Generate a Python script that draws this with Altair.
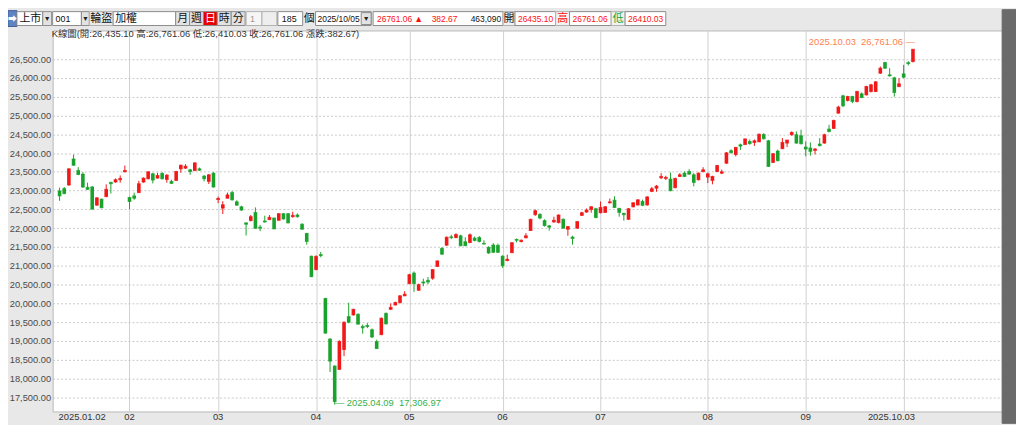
import altair as alt
import pandas as pd

# ---------------- data ----------------
opens = [
    22991, 23053, 23149, 23842, 23535, 23439, 23088, 23097, 22614, 22772, 22842, 23219, 23228, 23290, 23500,
    22816, 22860, 22947, 23228, 23316, 23447, 23333, 23456, 23298, 23246, 23272, 23579, 23597, 23553, 23535, 23579, 23386, 23246, 23465,
    22763, 22535, 22798, 22947, 22702, 22570, 22141, 22202, 22421, 22027, 22193, 22228, 22272, 22211, 22386, 22386, 22307, 22351, 22106, 21860, 21255,
    20900, 21298, 20132, 19053, 18334, 18246, 18773, 19649, 19693, 19711, 19386, 19413, 19299, 18983, 19167, 19737, 19843, 19957, 20018, 20202,
    20527, 20807, 20351, 20570, 20614, 20670, 20985, 21460, 21550, 21770, 21750, 21798, 21640, 21620, 21737, 21754, 21596, 21491, 21553, 21544,
    21255, 21140, 21350, 21700, 21645, 21746, 21939, 22360, 22369, 22202, 22062, 22167, 22149, 22237, 21974, 21763, 22000, 22342, 22430, 22500, 22518,
    22412, 22421, 22676, 22746, 22526, 22395, 22237, 22570, 22620, 22710, 22620, 22980, 23065, 23342, 23325, 23307, 23079, 23377, 23465, 23509, 23421, 23290, 23509,
    23360, 23272, 23509, 23465, 23730, 24061, 23960, 24219, 24228, 24307, 24281, 24298, 24490, 24325, 23752, 24053, 24115, 24265, 24487, 24487, 24460,
    24159, 24133, 24071, 24239, 24265, 24637, 24655, 25062, 25522, 25398, 25504, 25372, 25575, 25548, 25637, 25637, 26124, 26407, 26080, 26000, 25770,
    26106, 26405, 26435.10,
]
highs = [
    23079, 23097, 23597, 23956, 23623, 23491, 23211, 23123, 22825, 22790, 23167, 23237, 23325, 23404, 23667,
    22842, 22947, 23263, 23351, 23518, 23474, 23474, 23491, 23439, 23290, 23526, 23693, 23702, 23579, 23754, 23614, 23412, 23439, 23491,
    22842, 22719, 22947, 22991, 22746, 22597, 22158, 22351, 22553, 22088, 22334, 22351, 22281, 22404, 22404, 22404, 22439, 22395, 22132, 21877, 21270,
    21280, 21369, 20150, 19070, 18352, 19018, 19518, 20018, 19860, 19737, 19440, 19474, 19334, 19036, 19623, 19754, 20000, 20044, 20219, 20325,
    20790, 20851, 20527, 20658, 20702, 20910, 21140, 21500, 21780, 21825, 21868, 21825, 21760, 21860, 21780, 21790, 21680, 21520, 21600, 21590,
    21280, 21298, 21620, 21728, 21700, 21869, 22250, 22500, 22395, 22237, 22088, 22307, 22369, 22262, 22062, 21799, 22193, 22439, 22526, 22588, 22544,
    22711, 22588, 22790, 22851, 22544, 22412, 22535, 22693, 22770, 22760, 22850, 23096, 23149, 23465, 23395, 23482, 23342, 23465, 23509, 23570, 23465, 23482, 23623,
    23482, 23395, 23684, 23560, 24027, 24100, 24160, 24250, 24386, 24360, 24360, 24518, 24530, 24350, 24000, 24088, 24398, 24350, 24575, 24575, 24619,
    24310, 24283, 24133, 24398, 24513, 24752, 24885, 25257, 25548, 25522, 25522, 25655, 25611, 25788, 25840, 25911, 26301, 26425, 26257, 26027, 25991,
    26345, 26440, 26761.06,
]
lows = [
    22728, 22904, 23132, 23667, 23412, 23070, 23018, 22492, 22597, 22535, 22825, 22921, 23211, 23211, 23491,
    22509, 22755, 22939, 23211, 23298, 23193, 23325, 23298, 23211, 23184, 23263, 23474, 23579, 23421, 23518, 23526, 23246, 23176, 23079,
    22667, 22378, 22790, 22737, 22597, 22465, 21807, 22185, 21983, 21921, 22150, 22220, 21974, 22202, 22228, 22132, 22281, 22281, 21965, 21562, 20700,
    20880, 21228, 19193, 18176, 17306.97, 18229, 18597, 19474, 19675, 19440, 19193, 19343, 19080, 18790, 19158, 19440, 19825, 19948, 20009, 20193,
    20509, 20307, 20333, 20456, 20509, 20630, 20965, 21290, 21530, 21711, 21735, 21520, 21525, 21600, 21650, 21620, 21570, 21320, 21340, 21340,
    20945, 21120, 21340, 21623, 21625, 21730, 21930, 22330, 22237, 22044, 21939, 22150, 22132, 21990, 21799, 21562, 21990, 22325, 22412, 22412, 22272,
    22395, 22404, 22658, 22535, 22307, 22202, 22220, 22553, 22600, 22590, 22600, 22960, 22970, 23307, 23280, 22982, 23061, 23360, 23360, 23421, 23114, 23272, 23482,
    23202, 23167, 23491, 23440, 23710, 23990, 23910, 24079, 24210, 24220, 24190, 24290, 24360, 23630, 23735, 23780, 24106, 24160, 24460, 24248, 24230,
    23912, 23930, 23960, 24180, 24248, 24548, 24637, 25044, 25221, 25372, 25327, 25345, 25460, 25530, 25611, 25620, 26106, 26239, 26035, 25500, 25750,
    25991, 26330, 26410.03,
]
closes = [
    22860, 22921, 23579, 23675, 23430, 23097, 23035, 22509, 22807, 22544, 23035, 23184, 23290, 23325, 23535,
    22711, 22798, 23184, 23333, 23500, 23281, 23404, 23316, 23412, 23193, 23509, 23675, 23649, 23509, 23737, 23544, 23316, 23421, 23097,
    22790, 22623, 22886, 22755, 22614, 22483, 22106, 22307, 22000, 22000, 22167, 22290, 21983, 22386, 22246, 22141, 22342, 22307, 21974, 21650, 20710,
    21250, 21272, 19211, 18465, 17387, 18992, 19500, 19500, 19842, 19448, 19351, 19386, 19106, 18799, 19606, 19456, 19895, 20026, 20202, 20246,
    20763, 20527, 20500, 20544, 20570, 20900, 21130, 21310, 21760, 21750, 21830, 21535, 21535, 21825, 21675, 21649, 21579, 21342, 21360, 21360,
    21000, 21175, 21615, 21680, 21680, 21798, 22237, 22465, 22272, 22070, 22027, 22211, 22351, 22000, 22044, 21728, 22176, 22412, 22483, 22570, 22281,
    22553, 22570, 22702, 22553, 22421, 22360, 22518, 22676, 22755, 22610, 22833, 23050, 23120, 23377, 23351, 23000, 23325, 23421, 23377, 23439, 23219, 23465, 23553,
    23447, 23377, 23667, 23500, 24005, 24009, 24150, 24184, 24375, 24254, 24325, 24500, 24380, 23645, 23982, 23796, 24283, 24345, 24549, 24265, 24248,
    24106, 24044, 24106, 24195, 24487, 24575, 24867, 25221, 25257, 25504, 25372, 25637, 25478, 25770, 25814, 25894, 26257, 26257, 26053, 25611, 25841,
    26018, 26378.39, 26761.06,
]

y_ticks = [17500, 18000, 18500, 19000, 19500, 20000, 20500, 21000, 21500,
           22000, 22500, 23000, 23500, 24000, 24500, 25000, 25500, 26000, 26500]
month_line_idx = [15, 34, 55, 75, 95, 116, 139, 160, 181]
x_label_idx = [0, 15, 34, 55, 75, 95, 116, 139, 160, 183]
x_labels = ["2025.01.02", "02", "03", "04", "05", "06", "07", "08", "09", "2025.10.03"]
high_date = "2025.10.03"
low_date = "2025.04.09"
info_line = "K線圖(開:26,435.10 高:26,761.06 低:26,410.03 收:26,761.06 漲跌:382.67)"

# toolbar texts
tb_market, tb_code, tb_btn, tb_name = "上市", "001", "輪盜", "加權"
tb_periods = ["月", "週", "日", "時", "分"]
tb_n1, tb_count, tb_unit, tb_date = "1", "185", "個", "2025/10/05"
tb_last, tb_chg, tb_vol = "26761.06", "382.67", "463,090"
tb_open, tb_high, tb_low = "26435.10", "26761.06", "26410.03"

# ---------------- styling ----------------
UP, DOWN = "#f01818", "#19a32c"
FONT = "Liberation Sans"
TBFONT = "Liberation Sans, Noto Sans CJK TC"
W, H = 957, 384
PL, PT = 45, 21          # view origin on the page is (8 + PL, 8 + PT)
SP = " \u00a0"           # double space that survives SVG whitespace collapsing

df = pd.DataFrame({"i": list(range(len(opens))), "open": opens, "high": highs,
                   "low": lows, "close": closes})
df["col"] = [UP if c >= o else DOWN for o, c in zip(opens, closes)]

xs = alt.Scale(domain=[-0.421, 201.05], nice=False, zero=False)
ys = alt.Scale(domain=[17126, 27260], nice=False, zero=False)

base = alt.Chart(df)
wick = base.mark_rule(strokeWidth=1).encode(
    x=alt.X("i:Q", scale=xs, title=None,
            axis=alt.Axis(values=month_line_idx, tickCount=50, grid=True, gridColor="#d0d0d0",
                          gridWidth=1, labels=False, ticks=False, domain=False, title=None)),
    y=alt.Y("low:Q", scale=ys, title=None,
            axis=alt.Axis(values=y_ticks, tickCount=50, format=",.2f", grid=True,
                          gridDash=[2, 2], gridColor="#c8c8c8", domain=False, ticks=False,
                          labelPadding=2, labelOverlap=False, labelFont=FONT,
                          labelFontSize=9.4, labelColor="#4a4a4a", title=None)),
    y2="high:Q",
    color=alt.Color("col:N", scale=None),
)
body = base.mark_bar(size=3.6).encode(
    x=alt.X("i:Q", scale=xs, title=None),
    y=alt.Y("open:Q", scale=ys, title=None), y2="close:Q",
    color=alt.Color("col:N", scale=None),
)
tick_o = base.mark_tick(orient="horizontal", size=3.6, thickness=1).encode(
    x=alt.X("i:Q", scale=xs, title=None), y=alt.Y("open:Q", scale=ys, title=None),
    color=alt.Color("col:N", scale=None))
tick_c = base.mark_tick(orient="horizontal", size=3.6, thickness=1).encode(
    x=alt.X("i:Q", scale=xs, title=None), y=alt.Y("close:Q", scale=ys, title=None),
    color=alt.Color("col:N", scale=None))

# high / low annotations
i_hi = highs.index(max(highs))
i_lo = lows.index(min(lows))
ann_hi = alt.Chart(pd.DataFrame({"i": [i_hi], "v": [highs[i_hi]],
                                 "t": [f"{high_date}{SP}{highs[i_hi]:,.2f} —"]})).mark_text(
    align="right", baseline="middle", dx=2, dy=-7, font=FONT, fontSize=9.5, color="#ff8050"
).encode(x=alt.X("i:Q", scale=xs, title=None), y=alt.Y("v:Q", scale=ys, title=None), text="t:N")
ann_lo = alt.Chart(pd.DataFrame({"i": [i_lo], "v": [lows[i_lo]],
                                 "t": [f"— {low_date}{SP}{lows[i_lo]:,.2f}"]})).mark_text(
    align="left", baseline="middle", dx=0, dy=-2, font=FONT, fontSize=9.5, color="#36b04a"
).encode(x=alt.X("i:Q", scale=xs, title=None), y=alt.Y("v:Q", scale=ys, title=None), text="t:N")

# bottom date labels
xl = pd.DataFrame({"i": x_label_idx, "t": x_labels,
                   "a": ["left"] + ["center"] * (len(x_labels) - 2) + ["right"]})
xlab = []
for a, dx in (("left", -1), ("center", 0), ("right", 2)):
    xlab.append(alt.Chart(xl).transform_filter(alt.datum.a == a).mark_text(
        align=a, baseline="middle", dx=dx, font=FONT, fontSize=9.5, color="#333333"
    ).encode(x=alt.X("i:Q", scale=xs, title=None), y=alt.value(H + 6), text="t:N"))

info = alt.Chart(pd.DataFrame({"t": [info_line]})).mark_text(
    align="left", baseline="middle", font=TBFONT, fontSize=9.5, color="#333333"
).encode(x=alt.value(-1), y=alt.value(4), text="t:N")

# ---------------- toolbar (decoration, pixel frame of the window) ----------------
def box(x0, x1, y0, y1, fill, stroke):
    return {"x0": x0 - 8 - PL, "x1": x1 - 8 - PL, "y0": y0 - PT, "y1": y1 - PT,
            "fill": fill, "stroke": stroke}

BTN, EDGE = "#e2e2e2", "#8c8c8c"
boxes = [
    box(8, 17, 1, 17, "#5f82c2", "#3f5f99"),
    box(17, 43, 2, 16, "white", EDGE), box(43, 52, 2, 16, BTN, EDGE),
    box(53, 82, 2, 16, "white", EDGE), box(82, 90, 2, 16, BTN, EDGE),
    box(90, 114, 2, 16, "#eaeaea", "#b0b0b0"),
    box(114, 177, 2, 16, "white", EDGE),
    box(177, 191, 2, 16, BTN, EDGE), box(191, 205, 2, 16, BTN, EDGE),
    box(205, 219, 2, 16, "#e80000", EDGE), box(219, 233, 2, 16, BTN, EDGE),
    box(233, 247, 2, 16, BTN, EDGE),
    box(248, 264, 2, 16, "#f6f6f6", "#b0b0b0"), box(264, 279, 2, 16, "#eeeeee", "#b0b0b0"),
    box(280, 305, 2, 16, "white", EDGE),
    box(318, 374, 2, 16, "white", EDGE), box(364, 374, 3, 15, BTN, EDGE),
    box(376, 507, 2, 16, "white", EDGE),
    box(507, 519, 2, 16, "#f2f2f2", "#b0b0b0"), box(519, 560, 2, 16, "white", EDGE),
    box(560, 574, 2, 16, "#f2f2f2", "#b0b0b0"), box(574, 616, 2, 16, "white", EDGE),
    box(616, 630, 2, 16, "#f2f2f2", "#b0b0b0"), box(630, 671, 2, 16, "white", EDGE),
    {"x0": W, "x1": W + 14, "y0": -PT, "y1": H + 12, "fill": "#6a6a6a", "stroke": "#6a6a6a"},
]

def txt(x, y, t, c="#111111", fs=9, a="left"):
    return {"x": x - 8 - PL, "y": y - PT, "t": t, "c": c, "fs": fs, "a": a}

CJ = 11
texts = [
    txt(12.5, 9, "➡", "white", 9, "center"),
    txt(19.5, 9, tb_market, fs=CJ), txt(47.5, 9.5, "▼", "#222222", 7, "center"),
    txt(56, 9, tb_code), txt(86, 9.5, "▼", "#222222", 7, "center"),
    txt(91, 9, tb_btn, fs=CJ), txt(116, 9, tb_name, fs=CJ),
    txt(184, 9, tb_periods[0], fs=CJ, a="center"), txt(198, 9, tb_periods[1], fs=CJ, a="center"),
    txt(212, 9, tb_periods[2], "white", fs=CJ, a="center"),
    txt(226, 9, tb_periods[3], fs=CJ, a="center"),
    txt(240, 9, tb_periods[4], fs=CJ, a="center"),
    txt(252, 9, tb_n1, "#9a9a9a"), txt(284, 9, tb_count), txt(306, 9, tb_unit, fs=CJ),
    txt(320, 9, tb_date, fs=8.5), txt(369, 9.5, "▼", "#222222", 7, "center"),
    txt(380, 9, tb_last, "#ff1010", fs=8.5), txt(422, 9, "▲", "#ff1010", 9, "center"),
    txt(461, 9, tb_chg, "#ff1010", fs=8.5, a="right"), txt(505, 9, tb_vol, fs=8.5, a="right"),
    txt(513, 9, "開", fs=CJ, a="center"), txt(522, 9, tb_open, "#ff1010", fs=8.5),
    txt(567, 9, "高", "#ff1010", fs=CJ, a="center"), txt(577, 9, tb_high, "#ff1010", fs=8.5),
    txt(623, 9, "低", "#19a32c", fs=CJ, a="center"), txt(633, 9, tb_low, "#ff1010", fs=8.5),
]

tb_rect = alt.Chart(pd.DataFrame(boxes)).mark_rect(strokeWidth=1).encode(
    x=alt.X("x0:Q", scale=None, axis=None), x2="x1:Q",
    y=alt.Y("y0:Q", scale=None, axis=None), y2="y1:Q",
    fill=alt.Fill("fill:N", scale=None), stroke=alt.Stroke("stroke:N", scale=None))

tdf = pd.DataFrame(texts)
tb_txt = []
for a in ("left", "center", "right"):
    tb_txt.append(alt.Chart(tdf).transform_filter(alt.datum.a == a).mark_text(
        align=a, baseline="middle", font=TBFONT
    ).encode(x=alt.X("x:Q", scale=None, axis=None), y=alt.Y("y:Q", scale=None, axis=None),
             text="t:N", color=alt.Color("c:N", scale=None), size=alt.Size("fs:Q", scale=None)))

chart = alt.layer(
    wick, body, tick_o, tick_c, ann_hi, ann_lo, info, *xlab, tb_rect, *tb_txt
).properties(
    width=W, height=H,
    padding={"left": PL, "top": PT, "right": 14, "bottom": 12},
    autosize=alt.AutoSizeParams(type="none"),
    background="#e8e8e8",
).configure_view(
    fill="white", stroke="#b8b8b8"
).configure_axis(
    labelOverlap=False, labelBound=False
)

chart.save("out.html", embed_options={"renderer": "svg", "actions": False})
